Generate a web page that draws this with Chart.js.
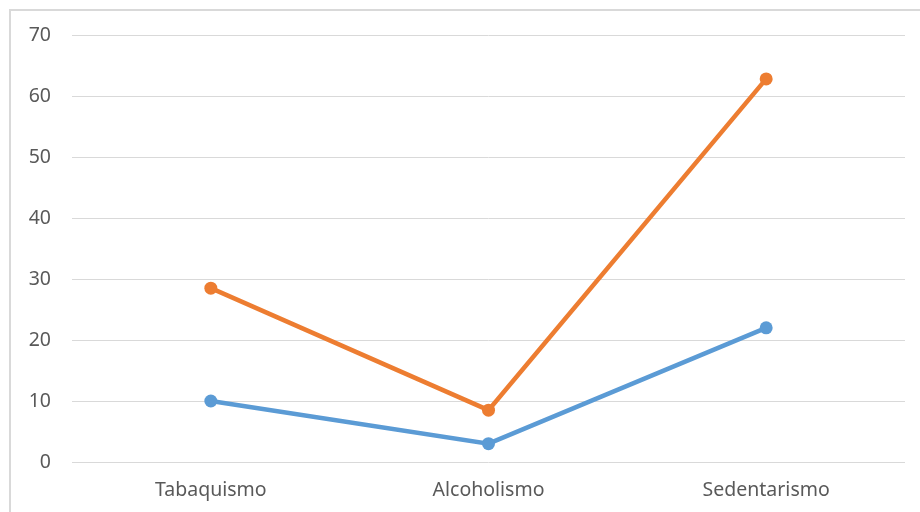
<!DOCTYPE html>
<html>
<head>
<meta charset="utf-8">
<script src="https://cdn.jsdelivr.net/npm/chart.js@4/dist/chart.umd.min.js"></script>
<style>
  html, body { margin: 0; padding: 0; background: #fff; overflow: hidden; }
  .frame { position: absolute; left: 9px; top: 9px; width: 1000px; height: 1000px; border: 2px solid #d9d9d9; }
  .chart-container { position: absolute; left: 0; top: 0; width: 920px; height: 512px; }
</style>
</head>
<body>
<div class="frame"></div>
<div class="chart-container">
  <canvas id="lineChart" width="920" height="512"></canvas>
</div>
<script>
const categories = ['Tabaquismo', 'Alcoholismo', 'Sedentarismo'];
const blueValues = [10, 3, 22];
const orangeValues = [28.5, 8.5, 62.8];
const yTicks = [0, 10, 20, 30, 40, 50, 60, 70];

var ctx = document.getElementById('lineChart').getContext('2d');
new Chart(ctx, {
    type: 'line',
    data: {
        labels: categories,
        datasets: [{
            label: 'Serie 1',
            data: blueValues,
            borderColor: '#5B9BD5',
            backgroundColor: '#5B9BD5',
            borderWidth: 4.5,
            pointRadius: 6.5,
            pointBorderWidth: 0,
            fill: false
        },
        {
            label: 'Serie 2',
            data: orangeValues,
            borderColor: '#ED7D31',
            backgroundColor: '#ED7D31',
            borderWidth: 4.5,
            pointRadius: 6.5,
            pointBorderWidth: 0,
            fill: false
        }]
    },
    options: {
        responsive: false,
        animation: false,
        layout: { padding: { left: 0, right: 15, top: 35, bottom: 0 } },
        plugins: { legend: { display: false }, tooltip: { enabled: false } },
        scales: {
            x: {
                offset: true,
                grid: { display: false, drawTicks: false },
                border: { display: false },
                ticks: { color: '#595959', font: { family: 'Noto Sans', size: 19.5 }, padding: 17 },
                afterFit: function (s) { s.height = 50; }
            },
            y: {
                min: 0,
                max: 70,
                afterBuildTicks: function (s) { s.ticks = yTicks.map(v => ({ value: v })); },
                grid: { color: '#d9d9d9', lineWidth: 1, drawTicks: false },
                border: { display: false },
                ticks: { color: '#595959', font: { family: 'Noto Sans', size: 19.5 }, padding: 21 },
                afterFit: function (s) { s.width = 72; }
            }
        }
    }
});
</script>
</body>
</html>
